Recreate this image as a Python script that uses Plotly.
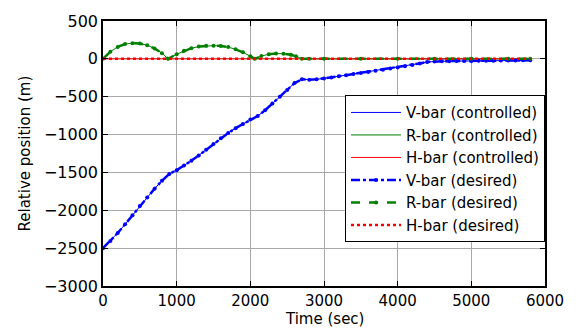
import plotly.graph_objects as go

# ---- data ----
t_v = [0, 100, 200, 300, 400, 500, 600, 700, 800, 900, 1000, 1100, 1200, 1300, 1400,
       1500, 1600, 1700, 1800, 1900, 2000, 2100, 2200, 2300, 2400, 2500, 2600, 2700,
       2800, 2900, 3000, 3100, 3200, 3300, 3400, 3500, 3600, 3700, 3800, 3900, 4000,
       4100, 4200, 4300, 4400, 4500, 4600, 4700, 4800, 4900, 5000, 5100, 5200, 5300,
       5400, 5500, 5600, 5700, 5800]
v_bar = [-2500, -2405, -2300, -2185, -2065, -1945, -1830, -1715, -1610, -1520, -1470,
         -1410, -1345, -1275, -1200, -1125, -1050, -980, -915, -860, -800, -755, -680,
         -590, -500, -410, -320, -270, -275, -270, -260, -245, -230, -215, -200, -188,
         -172, -158, -143, -129, -115, -98, -80, -60, -40, -34, -32, -30, -29, -28, -27,
         -26, -25, -24, -23, -22, -21, -20, -20]

t_r = [0, 100, 200, 300, 400, 500, 600, 700, 800, 883, 1000, 1100, 1200, 1300, 1400,
       1500, 1600, 1700, 1800, 1900, 2000, 2060, 2150, 2250, 2350, 2450, 2550, 2620,
       2700, 2800, 3000, 3500, 4000, 4500, 5000, 5500, 5800]
r_bar = [0, 95, 158, 195, 207, 203, 180, 138, 75, 0, 62, 106, 140, 162, 172, 174, 170,
         155, 126, 86, 35, 0, 38, 60, 70, 68, 55, 35, 0, 0, 0, 0, 0, 0, 0, 0, 0]

t_h = [0, 1000, 2000, 3000, 4000, 5000, 5800]
h_bar = [0, 0, 0, 0, 0, 0, 0]

x_ticks = [0, 1000, 2000, 3000, 4000, 5000, 6000]
y_ticks = [-3000, -2500, -2000, -1500, -1000, -500, 0, 500]

BLUE, GREEN, RED = "#0000ff", "#008000", "#ff0000"
FONT = "DejaVu Sans"

fig = go.Figure()
# controlled (thin solid)
fig.add_trace(go.Scatter(x=t_v, y=v_bar, mode="lines", name="V-bar (controlled)",
                         line=dict(color=BLUE, width=1)))
fig.add_trace(go.Scatter(x=t_r, y=r_bar, mode="lines", name="R-bar (controlled)",
                         line=dict(color=GREEN, width=1)))
fig.add_trace(go.Scatter(x=t_h, y=h_bar, mode="lines", name="H-bar (controlled)",
                         line=dict(color=RED, width=1)))
# desired
fig.add_trace(go.Scatter(x=t_v, y=v_bar, mode="lines+markers", name="V-bar (desired)",
                         line=dict(color=BLUE, width=2.5, dash="dashdot"),
                         marker=dict(color=BLUE, size=4)))
fig.add_trace(go.Scatter(x=t_r, y=r_bar, mode="lines+markers", name="R-bar (desired)",
                         line=dict(color=GREEN, width=2.5, dash="dash"),
                         marker=dict(color=GREEN, size=4)))
fig.add_trace(go.Scatter(x=t_h, y=h_bar, mode="lines", name="H-bar (desired)",
                         line=dict(color=RED, width=2.5, dash="dot")))

axis_common = dict(showline=True, linecolor="black", linewidth=1.5, mirror="ticks",
                   ticks="inside", ticklen=5, tickcolor="black",
                   showgrid=True, gridcolor="#a8a8a8", gridwidth=1, zeroline=False)

fig.update_xaxes(range=[0, 6000], tickvals=x_ticks,
                 tickfont=dict(family=FONT, size=15, color="black"), **axis_common)
fig.update_yaxes(range=[-3000, 500], tickvals=y_ticks,
                 tickfont=dict(family=FONT, size=16, color="black"), **axis_common)

fig.update_layout(
    width=576, height=329,
    margin=dict(l=103, r=31, t=14, b=43),
    paper_bgcolor="white", plot_bgcolor="white",
    font=dict(family=FONT, size=15, color="black"),
    showlegend=True,
    legend=dict(x=1.0, xanchor="right", y=0.72, yanchor="top",
                bgcolor="white", bordercolor="black", borderwidth=1,
                font=dict(family=FONT, size=15, color="black"),
                itemwidth=50, tracegroupgap=0),
    annotations=[
        dict(text="Time (sec)", xref="paper", yref="paper", x=0.5, y=-0.125,
             xanchor="center", yanchor="middle", showarrow=False,
             font=dict(family=FONT, size=15, color="black")),
        dict(text="Relative position (m)", xref="paper", yref="paper", x=-0.1765, y=0.5,
             xanchor="center", yanchor="middle", textangle=-90, showarrow=False,
             font=dict(family=FONT, size=15, color="black")),
    ],
)

fig.write_html("out.html")
